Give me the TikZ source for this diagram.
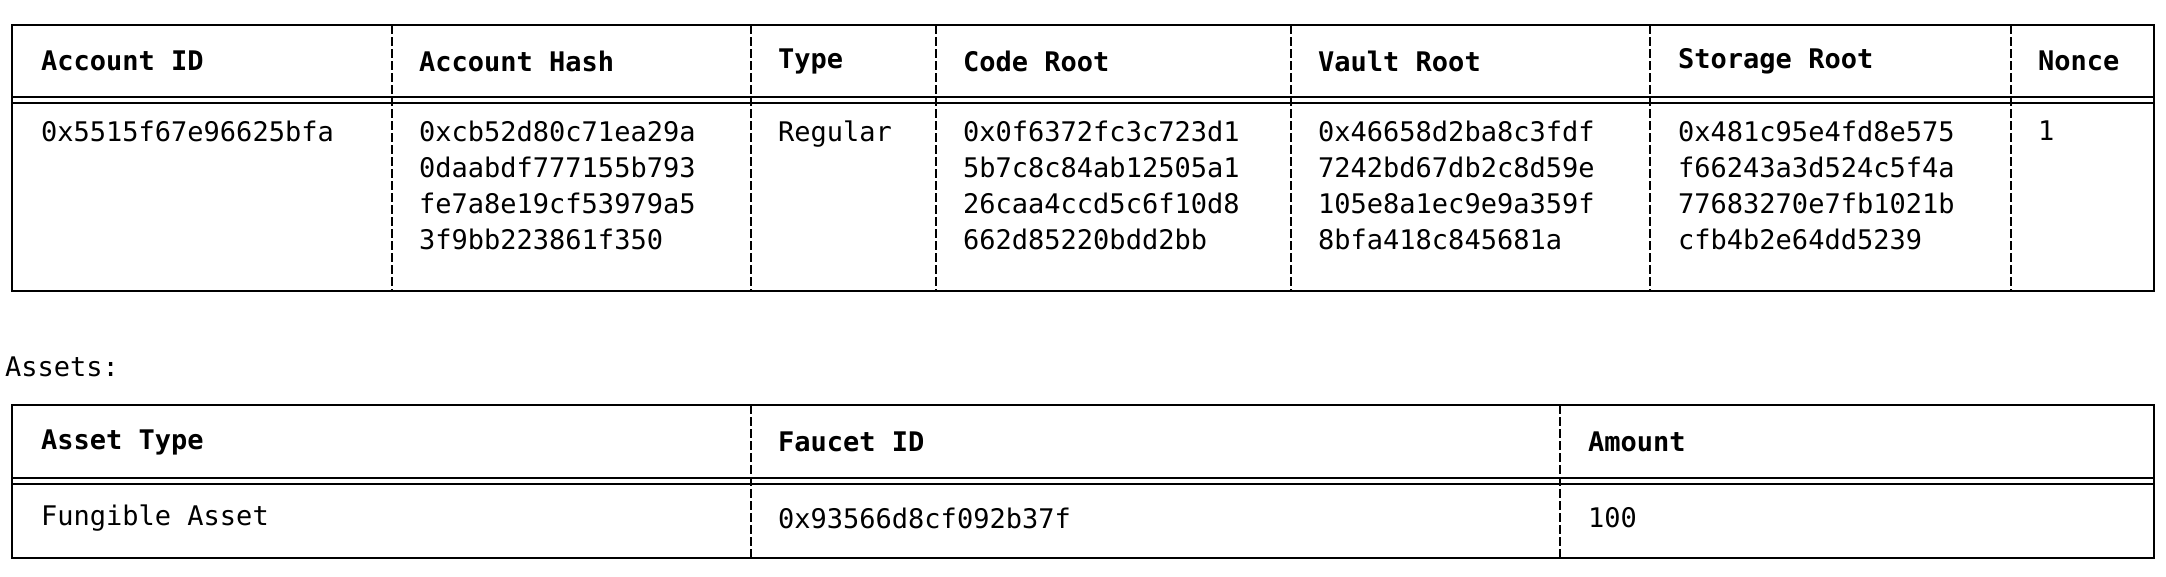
\documentclass[tikz,border=0pt]{standalone}
\usepackage{fontspec}
\setmonofont{DejaVu Sans Mono}
\begin{document}
\begin{tikzpicture}[x=1pt,y=-1pt,
  cell/.style={anchor=west,inner sep=0pt,font=\fontsize{27}{36}\selectfont\ttfamily,align=left},
  hcell/.style={cell,font=\fontsize{27}{36}\selectfont\ttfamily\bfseries},
  frame/.style={line width=2pt},
  sep/.style={line width=2pt,dash pattern=on 9pt off 3pt}]
\useasboundingbox (0,0) rectangle (2166,576);
% table 1
\draw[frame] (12,25) rectangle (2154,291);
\draw[frame] (12,97) -- (2154,97);
\draw[frame] (12,103) -- (2154,103);
\foreach \x in {392,751,936,1291,1650,2011}{\draw[sep] (\x,25) -- (\x,291);}
\node[hcell] (h1) at (41,61) {Account ID};
\node[hcell] (h2) at (419,61) {Account Hash};
\node[hcell] (h3) at (778,61) {Type};
\node[hcell] (h4) at (963,61) {Code Root};
\node[hcell] (h5) at (1318,61) {Vault Root};
\node[hcell] (h6) at (1678,61) {Storage Root};
\node[hcell] (h7) at (2038,61) {Nonce};
\node[cell,anchor=north west] (c1) at (41,121) {0x5515f67e96625bfa};
\node[cell,anchor=north west] (c2) at (419,121) {0xcb52d80c71ea29a\\0daabdf777155b793\\fe7a8e19cf53979a5\\3f9bb223861f350};
\node[cell,anchor=north west] (c3) at (778,121) {Regular};
\node[cell,anchor=north west] (c4) at (963,121) {0x0f6372fc3c723d1\\5b7c8c84ab12505a1\\26caa4ccd5c6f10d8\\662d85220bdd2bb};
\node[cell,anchor=north west] (c5) at (1318,121) {0x46658d2ba8c3fdf\\7242bd67db2c8d59e\\105e8a1ec9e9a359f\\8bfa418c845681a};
\node[cell,anchor=north west] (c6) at (1678,121) {0x481c95e4fd8e575\\f66243a3d524c5f4a\\77683270e7fb1021b\\cfb4b2e64dd5239};
\node[cell,anchor=north west] (c7) at (2038,121) {1};
% assets
\node[cell] (assets) at (5,367) {Assets:};
% table 2
\draw[frame] (12,405) rectangle (2154,558);
\draw[frame] (12,478) -- (2154,478);
\draw[frame] (12,484) -- (2154,484);
\foreach \x in {751,1560}{\draw[sep] (\x,405) -- (\x,558);}
\node[hcell] (a1) at (41,442) {Asset Type};
\node[hcell] (a2) at (778,442) {Faucet ID};
\node[hcell] (a3) at (1588,442) {Amount};
\node[cell] (b1) at (41,518) {Fungible Asset};
\node[cell] (b2) at (778,518) {0x93566d8cf092b37f};
\node[cell] (b3) at (1588,518) {100};
\end{tikzpicture}
\end{document}
